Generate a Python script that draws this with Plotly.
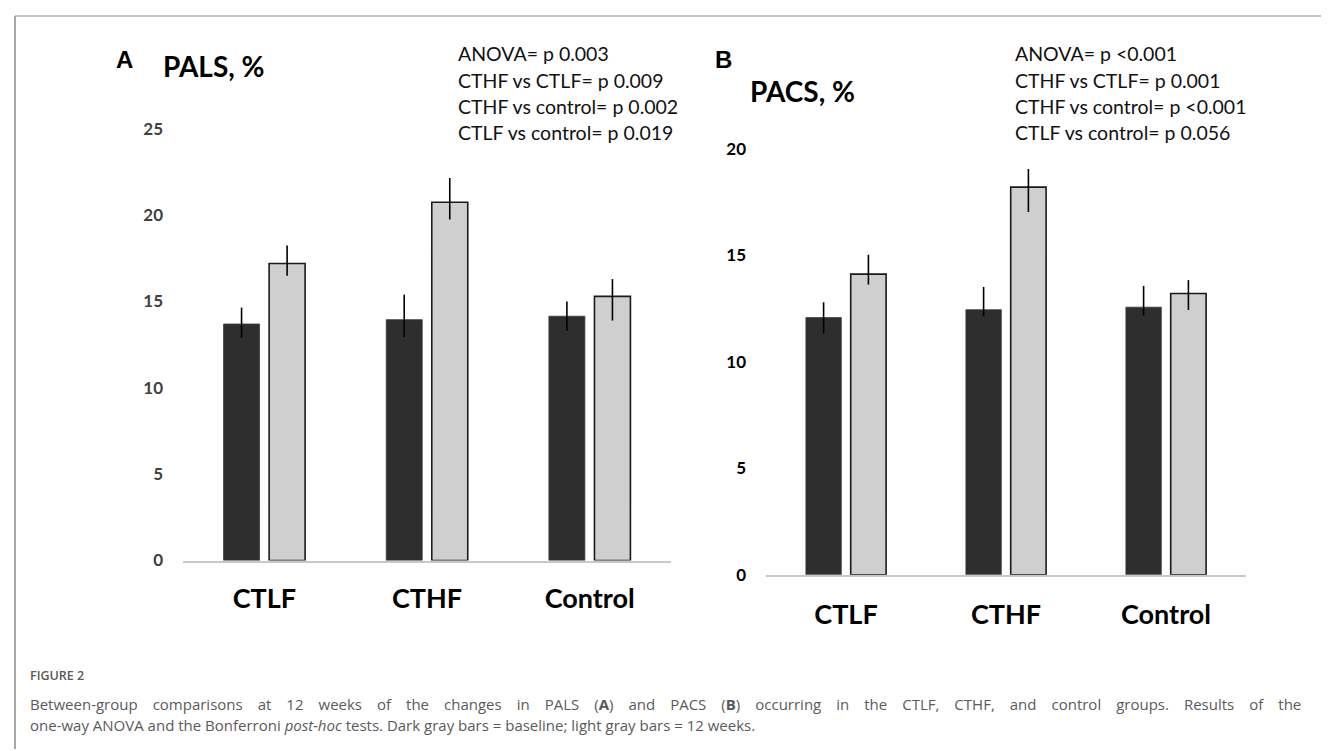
import plotly.graph_objects as go

W, H = 1329, 751

categories = ["CTLF", "CTHF", "Control"]

# Panel A: PALS, %
pals_baseline = [13.7, 13.95, 14.15]
pals_baseline_err_plus = [0.95, 1.45, 0.85]
pals_baseline_err_minus = [0.8, 1.0, 0.85]
pals_12w = [17.2, 20.75, 15.3]
pals_12w_err_plus = [1.05, 1.4, 1.0]
pals_12w_err_minus = [0.7, 1.0, 1.4]

# Panel B: PACS, %
pacs_baseline = [12.07, 12.44, 12.56]
pacs_baseline_err_plus = [0.72, 1.07, 1.0]
pacs_baseline_err_minus = [0.74, 0.32, 0.39]
pacs_12w = [14.11, 18.19, 13.2]
pacs_12w_err_plus = [0.91, 0.85, 0.63]
pacs_12w_err_minus = [0.49, 1.16, 0.77]

pals_yticks = [0, 5, 10, 15, 20, 25]
pacs_yticks = [0, 5, 10, 15, 20]

pals_stats = ["ANOVA= p 0.003", "CTHF vs CTLF= p 0.009",
              "CTHF vs control= p 0.002", "CTLF vs control= p 0.019"]
pacs_stats = ["ANOVA= p <0.001", "CTHF vs CTLF= p 0.001",
              "CTHF vs control= p <0.001", "CTLF vs control= p 0.056"]

caption_label = "FIGURE 2"
caption_line1_words = ["Between-group", "comparisons", "at", "12", "weeks", "of", "the", "changes",
                       "in", "PALS", "(<b>A</b>)", "and", "PACS", "(<b>B</b>)", "occurring", "in",
                       "the", "CTLF,", "CTHF,", "and", "control", "groups.", "Results", "of", "the"]
caption_line2 = ("one-way ANOVA and the Bonferroni <i>post-hoc</i> tests. Dark gray bars = baseline; "
                 "light gray bars = 12 weeks.")

DARK = "#2e2e2e"
LIGHT = "#cfcfcf"


def px(x):
    return x / W


def py(y):
    return 1 - y / H


fig = go.Figure()


def add_pair(base, bp, bm, wk, wp, wm, xa, ya):
    fig.add_trace(go.Bar(
        x=categories, y=base, xaxis=xa, yaxis=ya, name="Baseline",
        marker=dict(color=DARK, line=dict(color="#3a3a3a", width=0.8)),
        error_y=dict(type="data", symmetric=False, array=bp, arrayminus=bm,
                     color="#000000", thickness=1.6, width=0),
        showlegend=False))
    fig.add_trace(go.Bar(
        x=categories, y=wk, xaxis=xa, yaxis=ya, name="12 weeks",
        marker=dict(color=LIGHT, line=dict(color="#1a1a1a", width=1.6)),
        error_y=dict(type="data", symmetric=False, array=wp, arrayminus=wm,
                     color="#000000", thickness=1.6, width=0),
        showlegend=False))


add_pair(pals_baseline, pals_baseline_err_plus, pals_baseline_err_minus,
         pals_12w, pals_12w_err_plus, pals_12w_err_minus, "x", "y")
add_pair(pacs_baseline, pacs_baseline_err_plus, pacs_baseline_err_minus,
         pacs_12w, pacs_12w_err_plus, pacs_12w_err_minus, "x2", "y2")

# axis geometry (pixels)
A_left, A_right, A_zero, A_ppu = 175, 663, 560, 17.5
A_top_val = 26.5
B_left, B_right, B_zero, B_ppu = 758, 1238, 574.5, 21.6
B_top_val = 21.5

xcommon = dict(type="category", range=[-0.5, 2.5], showline=True, linecolor="#c8c8c8",
               linewidth=1.5, showgrid=False, zeroline=False, ticks="",
               tickfont=dict(family="Lato", size=27, color="#000000", weight="bold"),
               fixedrange=True)

fig.update_layout(
    width=W, height=H,
    margin=dict(l=0, r=0, t=0, b=0),
    paper_bgcolor="white", plot_bgcolor="white",
    barmode="group", bargap=0.44, bargroupgap=0.21,
    showlegend=False,
    xaxis=dict(domain=[px(A_left), px(A_right)], anchor="y", ticklabelstandoff=13, **xcommon),
    yaxis=dict(domain=[py(A_zero), py(A_zero - A_top_val * A_ppu)], anchor="x",
               range=[0, A_top_val], tickvals=pals_yticks, showgrid=False,
               zeroline=False, showline=False, ticks="", ticklabelstandoff=19,
               tickfont=dict(family="Lato", size=17, color="#404040", weight="bold")),
    xaxis2=dict(domain=[px(B_left), px(B_right)], anchor="y2", ticklabelstandoff=15, **xcommon),
    yaxis2=dict(domain=[py(B_zero), py(B_zero - B_top_val * B_ppu)], anchor="x2",
                range=[0, B_top_val], tickvals=pacs_yticks, showgrid=False,
                zeroline=False, showline=False, ticks="", ticklabelstandoff=19,
                tickfont=dict(family="Lato", size=17, color="#000000", weight="bold")),
)

ann = []
# panel letters and titles
ann.append(dict(text="<b>A</b>", x=px(116.5), y=py(52), xanchor="center", yanchor="middle",
                font=dict(family="Liberation Sans", size=24, color="#000")))
ann.append(dict(text="<b>PALS, %</b>", x=px(153), y=py(59), xanchor="left", yanchor="middle",
                font=dict(family="Lato", size=28, color="#000")))
ann.append(dict(text="<b>B</b>", x=px(715), y=py(52), xanchor="center", yanchor="middle",
                font=dict(family="Liberation Sans", size=24, color="#000")))
ann.append(dict(text="<b>PACS, %</b>", x=px(740), y=py(84), xanchor="left", yanchor="middle",
                font=dict(family="Lato", size=28, color="#000")))

line_y = [46, 73, 99.5, 126]
for i, t in enumerate(pals_stats):
    ann.append(dict(text=t, x=px(448), y=py(line_y[i]), xanchor="left", yanchor="middle",
                    font=dict(family="Lato", size=19.5, color="#111")))
for i, t in enumerate(pacs_stats):
    ann.append(dict(text=t, x=px(1005), y=py(line_y[i]), xanchor="left", yanchor="middle",
                    font=dict(family="Lato", size=19.5, color="#111")))

ann.append(dict(text=caption_label, x=px(20), y=py(677), xanchor="left", yanchor="middle",
                font=dict(family="Open Sans", size=12.5, color="#5a5a5a", weight=600)))
# first caption line is justified in the original (wider word spacing)
ann.append(dict(text="\u2003".join(caption_line1_words), x=px(20), y=py(705), xanchor="left",
                yanchor="middle", align="left",
                font=dict(family="Open Sans", size=15, color="#5a5a5a")))
ann.append(dict(text=caption_line2, x=px(20), y=py(726.5), xanchor="left", yanchor="middle",
                align="left", font=dict(family="Open Sans", size=15, color="#5a5a5a")))

for a in ann:
    a.update(xref="paper", yref="paper", showarrow=False)
fig.update_layout(annotations=ann)

# figure frame
fig.add_shape(type="line", xref="paper", yref="paper", x0=px(7), x1=px(7), y0=0, y1=py(8),
              line=dict(color="#8a8a8a", width=1.5))
fig.add_shape(type="line", xref="paper", yref="paper", x0=px(7), x1=px(1321), y0=py(8), y1=py(8),
              line=dict(color="#b0b0b0", width=1.5))
fig.add_shape(type="line", xref="paper", yref="paper", x0=px(1321), x1=px(1321), y0=0, y1=py(8),
              line=dict(color="#b0b0b0", width=1.5))

fig.write_html("out.html", config={"displayModeBar": False})
